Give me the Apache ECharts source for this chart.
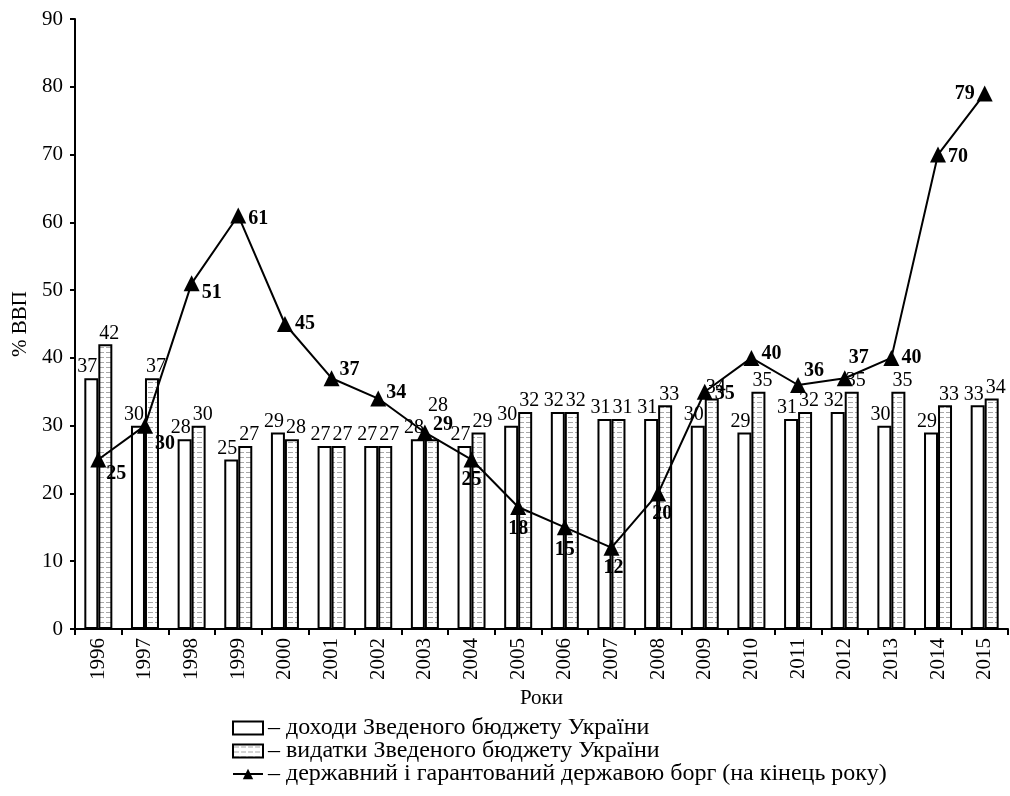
<!DOCTYPE html>
<html>
<head>
<meta charset="utf-8">
<script src="https://cdn.jsdelivr.net/npm/echarts@6/dist/echarts.min.js"></script>
<style>html,body{margin:0;padding:0;background:#fff}#c{width:1010px;height:796px}</style>
</head>
<body>
<div id="c"></div>
<script>
const years = ['1996','1997','1998','1999','2000','2001','2002','2003','2004','2005','2006','2007','2008','2009','2010','2011','2012','2013','2014','2015'];
const revenue = [37,30,28,25,29,27,27,28,27,30,32,31,31,30,29,31,32,30,29,33];
const expenses = [42,37,30,27,28,27,27,28,29,32,32,31,33,34,35,32,35,35,33,34];
const debt = [25,30,51,61,45,37,34,29,25,18,15,12,20,35,40,36,37,40,70,79];
const yTicks = [0,10,20,30,40,50,60,70,80,90];
const seriesNames = ['доходи Зведеного бюджету України','видатки Зведеного бюджету України','державний і гарантований державою борг (на кінець року)'];

// label placement styles for the debt line (style only)
const debtLabelPlace = {
  '1996':['right',[-4,14]], '1997':['right',[-2,18]], '1998':['right',[-2,9]], '1999':['right',[-2,3]],
  '2000':['right',[-2,0]], '2001':['right',[-4,-8]], '2002':['right',[-4,-6]], '2003':['right',[-4,-8]],
  '2004':['bottom',[0,-2]], '2005':['bottom',[0,0]], '2006':['bottom',[0,0]], '2007':['bottom',[2,-2]],
  '2008':['bottom',[4,-2]], '2009':['right',[-2,2]], '2010':['right',[-2,-4]], '2011':['right',[-6,-14]],
  '2012':['right',[-8,-20]], '2013':['right',[-2,0]], '2014':['right',[-2,2]], '2015':['left',[2,0]]
};
const expLabelOffset = {'2003':[6,-22]};

const F = 'Liberation Serif, Times New Roman, serif';

function makePattern(){
  const c = document.createElement('canvas');
  c.width = 14; c.height = 5;
  const ctx = c.getContext('2d');
  ctx.fillStyle = '#ffffff'; ctx.fillRect(0,0,14,5);
  ctx.strokeStyle = '#a8a8a8'; ctx.lineWidth = 1;
  ctx.beginPath(); ctx.moveTo(1,2.5); ctx.lineTo(6,2.5); ctx.moveTo(8,2.5); ctx.lineTo(13,2.5); ctx.stroke();
  return c;
}
const pat = {image: makePattern(), repeat: 'repeat'};

function legendRow(name, top, icon){
  return {
    orient:'horizontal', left:232, top:top, padding:0, itemWidth:30, itemHeight:13,
    textStyle:{fontFamily:F, fontSize:24, lineHeight:22, color:'#000'},
    formatter: n => '– ' + n,
    data:[icon ? {name:name, icon:icon} : {name:name}]
  };
}

const chart = echarts.init(document.getElementById('c'), null, {renderer:'canvas'});
chart.setOption({
  animation:false,
  backgroundColor:'#fff',
  textStyle:{fontFamily:F, color:'#000'},
  grid:{left:75, right:2, top:19, bottom:167, outerBoundsMode:'none', containLabel:false},
  legend:[
    legendRow(seriesNames[0], 716, 'rect'),
    legendRow(seriesNames[1], 739, 'rect'),
    legendRow(seriesNames[2], 762, null)
  ],
  xAxis:{
    type:'category', data:years,
    axisLine:{lineStyle:{color:'#000', width:2}},
    axisTick:{show:true, alignWithLabel:false, length:6, lineStyle:{color:'#000', width:2}},
    axisLabel:{rotate:90, fontFamily:F, fontSize:21, color:'#000', margin:9},
    name:'Роки', nameLocation:'middle', nameGap:55,
    nameTextStyle:{fontFamily:F, fontSize:21, color:'#000'}
  },
  yAxis:{
    type:'value', min:0, max:90, interval:10,
    splitLine:{show:false},
    axisLine:{show:true, lineStyle:{color:'#000', width:2}},
    axisTick:{show:true, length:5, lineStyle:{color:'#000', width:2}},
    axisLabel:{fontFamily:F, fontSize:21, color:'#000', margin:12,
      formatter: v => yTicks.includes(v) ? String(v) : ''},
    name:'% ВВП', nameLocation:'middle', nameGap:42, nameRotate:90,
    nameTextStyle:{fontFamily:F, fontSize:21, color:'#000'}
  },
  series:[
    {
      name:seriesNames[0], type:'bar', data:revenue,
      barWidth:14, barGap:'0%',
      itemStyle:{color:'#fff', borderColor:'#000', borderWidth:2},
      label:{show:true, position:'top', distance:1, offset:[-4,0], fontFamily:F, fontSize:20, color:'#000'},
      z:2
    },
    {
      name:seriesNames[1], type:'bar',
      data: expenses.map((v,i)=> expLabelOffset[years[i]] ? {value:v, label:{offset:expLabelOffset[years[i]]}} : v),
      barWidth:14, barGap:'0%',
      itemStyle:{color:pat, borderColor:'#000', borderWidth:2},
      label:{show:true, position:'top', distance:1, offset:[4,0], fontFamily:F, fontSize:20, color:'#000'},
      z:2
    },
    {
      name:seriesNames[2], type:'line',
      data: debt.map((v,i)=>{
        const p = debtLabelPlace[years[i]];
        return {value:v, label:{position:p[0], offset:p[1]}};
      }),
      symbol:'triangle', symbolSize:16,
      lineStyle:{color:'#000', width:2},
      itemStyle:{color:'#000'},
      label:{show:true, fontFamily:F, fontSize:20, fontWeight:'bold', color:'#000', distance:4},
      z:5
    }
  ]
});
</script>
</body>
</html>
